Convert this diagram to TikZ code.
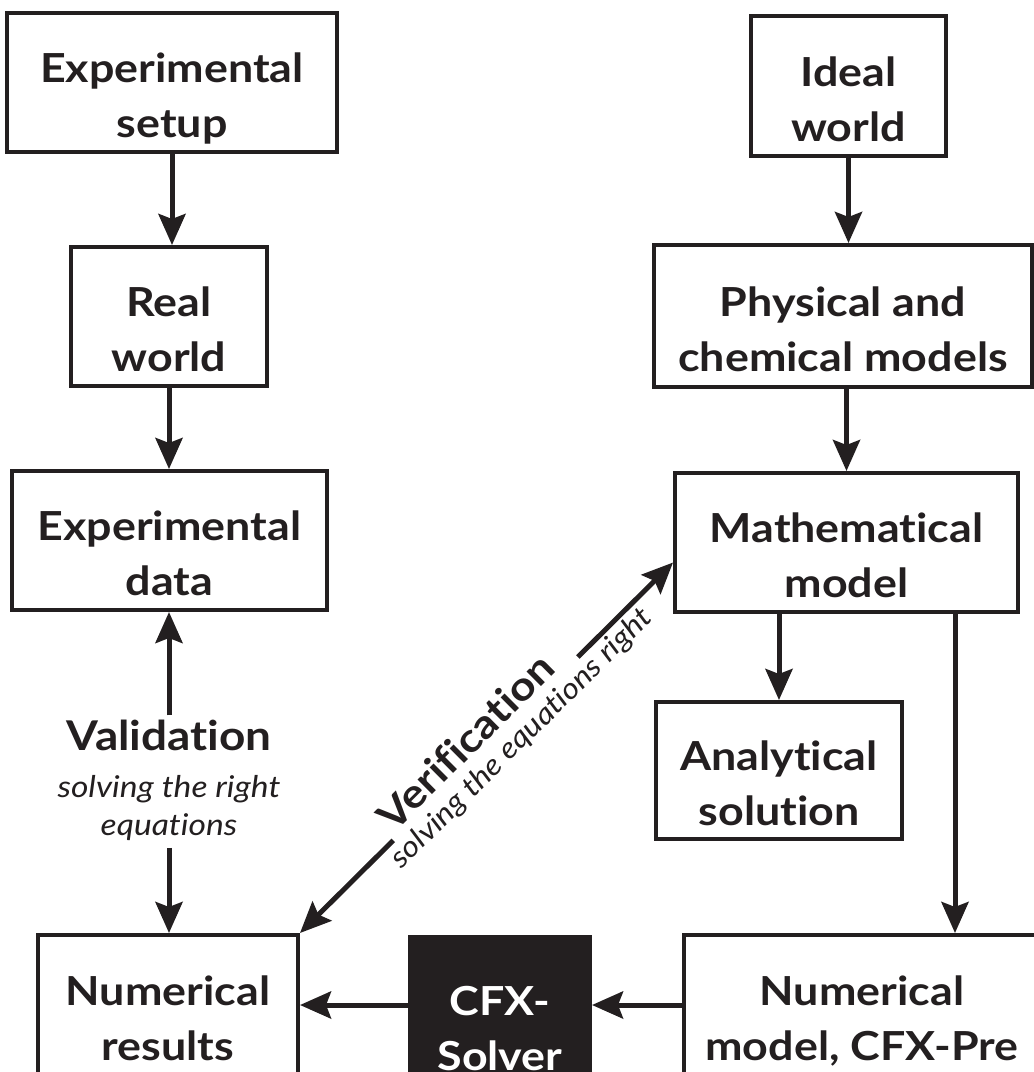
\documentclass[tikz,border=0pt]{standalone}
\usepackage{fontspec}
\setmainfont{Lato}[Ligatures={TeX,NoCommon}, FakeStretch=1.12]
\usetikzlibrary{arrows.meta,calc}
\definecolor{ink}{HTML}{231F20}
\newcommand{\twolines}[2]{\begin{tabular}[t]{@{}c@{}}#1\\#2\end{tabular}}
\begin{document}
\begin{tikzpicture}[x=1pt,y=-1pt,
  box/.style={draw=ink, line width=4pt, inner sep=0pt, text=ink,
    font=\fontsize{40}{55}\selectfont\bfseries, text height=30pt, text depth=30pt},
  arr/.style={draw=ink, line width=5pt, -{Stealth[length=31pt,width=27pt,inset=5pt]}},
  lbl/.style={text=ink, inner sep=4pt},
  bigbold/.style={font=\fontsize{41}{50}\selectfont\bfseries},
  smallit/.style={font=\fontsize{30}{38}\selectfont\itshape}]
\useasboundingbox (0,0) rectangle (1034,1072);
\clip (0,0) rectangle (1034,1072);
\fill[white] (0,0) rectangle (1034,1072);

% boxes
\node[box, minimum width=330pt, minimum height=139pt] (setup) at (172,82.5) {\twolines{Experimental}{setup}};
\node[box, minimum width=196pt, minimum height=139pt] (real) at (169,316.5) {\twolines{Real}{world}};
\node[box, minimum width=315pt, minimum height=139pt] (data) at (169.5,540.5) {\twolines{Experimental}{data}};
\node[box, minimum width=195pt, minimum height=140pt] (ideal) at (848.5,86) {\twolines{Ideal}{world}};
\node[box, minimum width=378pt, minimum height=142pt] (phys) at (843,316) {\twolines{Physical and}{chemical models}};
\node[box, minimum width=343pt, minimum height=139pt] (math) at (846.5,542.5) {\twolines{Mathematical}{model}};
\node[box, minimum width=246pt, minimum height=137pt] (anal) at (779,770.5) {\twolines{Analytical}{solution}};
\node[box, minimum width=260pt, minimum height=140pt] (numres) at (168,1005) {\twolines{Numerical}{results}};
\node[box, fill=ink, text=white, minimum width=180pt, minimum height=143pt, text height=36pt, text depth=23pt] (cfx) at (500,1008.5) {\twolines{CFX-}{Solver}};
\node[box, minimum width=356pt, minimum height=140pt] (nummod) at (862,1005) {\twolines{Numerical}{model, CFX-Pre}};

% vertical arrows
\draw[arr] (setup.south) -- (setup.south |- real.north);
\draw[arr] (real.south) -- (real.south |- data.north);
\draw[arr] (ideal.south) -- (ideal.south |- phys.north);
\draw[arr] (math.north |- phys.south) -- (math.north);
\draw[arr] (anal.north |- math.south) -- (anal.north);
\coordinate (mdown) at ([xshift=108.5pt]math.south);
\draw[arr] (mdown) -- (mdown |- nummod.north);

% horizontal arrows
\draw[arr] (nummod.west) -- (cfx.east |- nummod.west);
\draw[arr] (cfx.west |- numres.east) -- (numres.east);

% validation
\node[lbl, anchor=base, bigbold] (val) at (169,750) {Validation};
\node[lbl, align=center, inner ysep=7pt, smallit] (valsub) at (169,808) {solving the right\\equations};
\draw[arr] (val.north) -- (val.north |- data.south);
\draw[arr] (valsub.south) -- (valsub.south |- numres.north);

% verification
\coordinate (vA) at (numres.north east);
\coordinate (vB) at ($(math.south west)!0.36!(math.north west)$);
\draw[arr] ($(vA)!0.25!(vB)$) -- (vA);
\draw[arr] ($(vA)!0.745!(vB)$) -- (vB);
\path (vA) -- (vB)
  node[pos=0.48, sloped, above, text=ink, inner sep=4pt, font=\fontsize{40}{48}\selectfont\bfseries] (verif) {Verification}
  node[pos=0.56, sloped, below, text=ink, inner sep=5pt, font=\fontsize{29}{36}\selectfont\itshape] (verifsub) {solving the equations right};
\end{tikzpicture}
\end{document}
